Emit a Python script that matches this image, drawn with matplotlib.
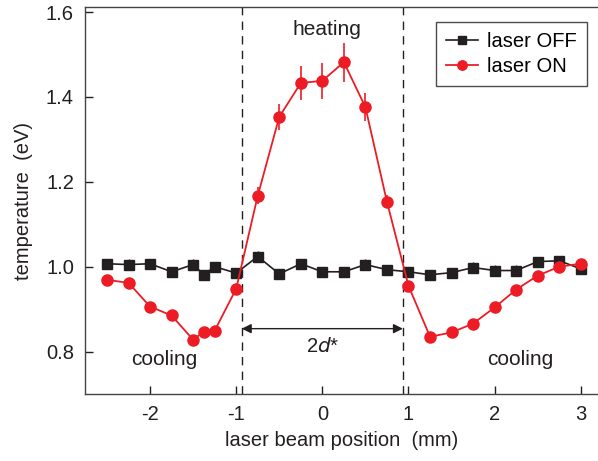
import numpy as np
import matplotlib
matplotlib.use("Agg")
import matplotlib.pyplot as plt

plt.rcParams['font.family'] = ['Liberation Sans', 'DejaVu Sans']

# beam position (mm)
pos = [-2.5, -2.25, -2.0, -1.75, -1.5, -1.375, -1.25, -1.0, -0.75, -0.5, -0.25, 0.0,
       0.25, 0.5, 0.75, 1.0, 1.25, 1.5, 1.75, 2.0, 2.25, 2.5, 2.75, 3.0]

# laser OFF (black squares)
t_off = [1.007, 1.005, 1.007, 0.988, 1.005, 0.981, 1.000, 0.985, 1.024, 0.983, 1.007, 0.988,
         0.988, 1.005, 0.993, 0.988, 0.981, 0.986, 0.998, 0.991, 0.991, 1.012, 1.014, 0.995]
err_off = [0.012] * len(pos)

# laser ON (red circles)
t_on = [0.969, 0.962, 0.906, 0.885, 0.828, 0.847, 0.849, 0.948, 1.167, 1.353, 1.433, 1.438,
        1.482, 1.376, 1.153, 0.955, 0.835, 0.845, 0.866, 0.904, 0.946, 0.979, 1.000, 1.007]
err_on = [0.008, 0.008, 0.008, 0.008, 0.008, 0.008, 0.008, 0.01, 0.02, 0.03, 0.039, 0.042,
          0.046, 0.033, 0.015, 0.01, 0.008, 0.008, 0.008, 0.008, 0.008, 0.008, 0.008, 0.008]

d_star = 0.935

black = '#231f20'
red = '#ed1c24'
fs = 14.5

fig = plt.figure(figsize=(5.98, 4.61), dpi=100)
ax = fig.add_axes([85 / 598, 67 / 461, 1 - 85 / 598, 387 / 461])

ax.errorbar(pos, t_off, yerr=err_off, fmt='none', ecolor=black, elinewidth=1.0,
            capsize=0, zorder=3)
ax.plot(pos, t_off, color=black, marker='s', ms=6.5, lw=1.2, label='laser OFF', zorder=3)
ax.errorbar(pos, t_on, yerr=err_on, fmt='none', ecolor=red, elinewidth=1.2,
            capsize=0, zorder=4)
ax.plot(pos, t_on, color=red, marker='o', ms=8, lw=1.3, label='laser ON', zorder=4)

for xd in (-d_star, d_star):
    ax.axvline(xd, color=black, lw=1.0, ls=(0, (6, 4.5)), zorder=2)

ax.annotate('', xy=(-d_star, 0.854), xytext=(d_star, 0.854),
            arrowprops=dict(arrowstyle='<|-|>', color=black, lw=1.0,
                            mutation_scale=14, shrinkA=0, shrinkB=0))
ax.text(0.0, 0.812, '2$d$*', ha='center', va='center', fontsize=fs, color=black)
ax.text(0.05, 1.558, 'heating', ha='center', va='center', fontsize=15, color=black)
ax.text(-1.83, 0.781, 'cooling', ha='center', va='center', fontsize=15, color=black)
ax.text(2.3, 0.781, 'cooling', ha='center', va='center', fontsize=15, color=black)

ax.set_xlim(-2.755, 3.2)
ax.set_ylim(0.70, 1.612)
ax.set_xticks([-2, -1, 0, 1, 2, 3])
ax.set_xticklabels(['-2', '-1', '0', '1', '2', '3'])
ax.set_yticks([0.8, 1.0, 1.2, 1.4, 1.6])
ax.set_yticklabels(['0.8', '1.0', '1.2', '1.4', '1.6'])
ax.tick_params(direction='in', length=6, width=1.0, labelsize=fs, colors=black, pad=8)
ax.spines['right'].set_visible(False)
for s in ('left', 'bottom', 'top'):
    ax.spines[s].set_linewidth(1.0)
    ax.spines[s].set_color('#444444')

ax.set_xlabel('laser beam position  (mm)', fontsize=fs, color=black, labelpad=5)
ax.set_ylabel('temperature  (eV)', fontsize=fs, color=black, labelpad=9)

leg = ax.legend(loc='upper right', bbox_to_anchor=(0.979, 0.961), borderaxespad=0,
                fontsize=fs, frameon=True, fancybox=False, edgecolor=black,
                handlelength=1.6, handletextpad=0.45, borderpad=0.5, labelspacing=0.3,
                markerscale=0.85)
leg.get_frame().set_linewidth(1.0)

fig.savefig('out.png', dpi=100)
